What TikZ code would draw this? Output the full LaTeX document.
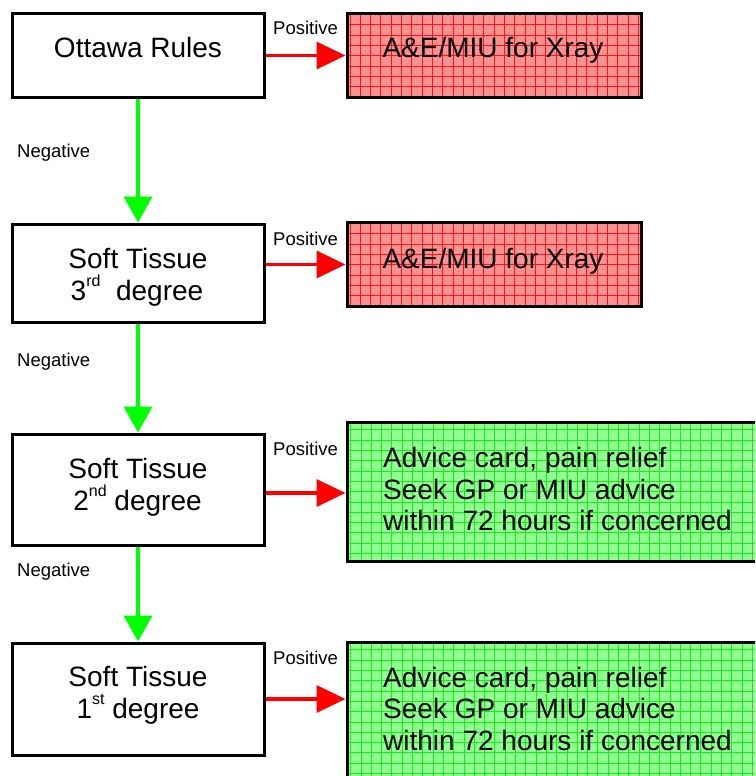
\documentclass[tikz,border=0pt]{standalone}
\usepackage{fontspec}
\setmainfont{Liberation Sans}
\usetikzlibrary{arrows.meta}
\definecolor{fillred}{RGB}{250,145,145}
\definecolor{gridred}{RGB}{255,20,20}
\definecolor{fillgreen}{RGB}{145,255,145}
\definecolor{gridgreen}{RGB}{20,240,20}
\definecolor{arrgreen}{RGB}{0,255,0}
\definecolor{arrred}{RGB}{255,0,0}
\newcommand{\sups}[1]{\raisebox{14pt}{\fontsize{16}{16}\selectfont #1}}
\begin{document}
\begin{tikzpicture}[x=1pt,y=-1pt,
  box/.style={draw=black,line width=3pt,minimum width=252pt,inner sep=0pt,fill=white},
  redbox/.style={draw=black,line width=3pt,minimum width=294pt,minimum height=84pt,inner sep=0pt,fill=fillred,
    path picture={\draw[gridred,line width=0.5pt] ([shift={(-20pt,-20pt)}]path picture bounding box.south west) grid[step=10.3pt] ([shift={(20pt,20pt)}]path picture bounding box.north east);}},
  greenbox/.style={draw=black,line width=3pt,minimum width=419pt,minimum height=139pt,inner sep=0pt,fill=fillgreen,
    path picture={\draw[gridgreen,line width=0.5pt] ([shift={(-20pt,-20pt)}]path picture bounding box.south west) grid[step=10.3pt] ([shift={(20pt,20pt)}]path picture bounding box.north east);}},
  bigtext/.style={font=\fontsize{28}{32}\selectfont,inner sep=0pt},
  smalltext/.style={font=\fontsize{18.5}{22}\selectfont,inner sep=0pt,anchor=base west},
  negarrow/.style={draw=arrgreen,fill=arrgreen,line width=4pt,-{Triangle[length=26pt,width=28pt]}},
  posarrow/.style={draw=arrred,fill=arrred,line width=3.5pt,-{Triangle[length=29pt,width=27pt]}}
]
\useasboundingbox (0,0) rectangle (755,776);
\clip (0,0) rectangle (755,776);

% left boxes
\node[box,minimum height=84pt] (b1) at (138,55.5) {};
\node[box,minimum height=98pt] (b2) at (138,273) {};
\node[box,minimum height=111pt] (b3) at (138,489.5) {};
\node[box,minimum height=112pt] (b4) at (138,699) {};

% right boxes
\node[redbox] (r1) at (494,55.5) {};
\node[redbox] (r2) at (494,264.5) {};
\node[greenbox] (g3) at (556.5,491.5) {};
\node[greenbox] (g4) at (556.5,711.5) {};

% texts in left boxes
\node[bigtext,anchor=base] (t1) at (138,58) {Ottawa Rules};
\node[bigtext,anchor=base] (t2a) at (138,268) {Soft Tissue};
\node[bigtext,anchor=base] (t2b) at (137,300) {3\sups{rd}~~degree};
\node[bigtext,anchor=base] (t3a) at (138,478) {Soft Tissue};
\node[bigtext,anchor=base] (t3b) at (137.5,510) {2\sups{nd} degree};
\node[bigtext,anchor=base] (t4a) at (138,686) {Soft Tissue};
\node[bigtext,anchor=base] (t4b) at (138,718) {1\sups{st} degree};

% texts in right boxes
\node[bigtext,anchor=base] (tr1) at (493,58) {A\&E/MIU for Xray};
\node[bigtext,anchor=base] (tr2) at (493,268) {A\&E/MIU for Xray};
\node[bigtext,anchor=base west] (tg3a) at (383,467) {Advice card, pain relief};
\node[bigtext,anchor=base west] (tg3b) at (383,499) {Seek GP or MIU advice};
\node[bigtext,anchor=base west] (tg3c) at (383,530) {within 72 hours if concerned};
\node[bigtext,anchor=base west] (tg4a) at (383,687) {Advice card, pain relief};
\node[bigtext,anchor=base west] (tg4b) at (383,718) {Seek GP or MIU advice};
\node[bigtext,anchor=base west] (tg4c) at (383,750) {within 72 hours if concerned};

% labels
\node[smalltext] (p1) at (273,35) {Positive};
\node[smalltext] (p2) at (273,245) {Positive};
\node[smalltext] (p3) at (273,455) {Positive};
\node[smalltext] (p4) at (273,664) {Positive};
\node[smalltext] (n1) at (17,157) {Negative};
\node[smalltext] (n2) at (17,366) {Negative};
\node[smalltext] (n3) at (17,576) {Negative};

% connectors
\coordinate (c3) at ([yshift=-3.5pt]b3.east);
\draw[negarrow] (b1.south) -- (b2.north);
\draw[negarrow] (b2.south) -- (b3.north);
\draw[negarrow] (b3.south) -- (b4.north);
\draw[posarrow] (b1.east) -- (r1.west);
\draw[posarrow] (b2.east |- r2.west) -- (r2.west);
\draw[posarrow] (c3) -- (g3.west |- c3);
\draw[posarrow] (b4.east) -- (g4.west |- b4.east);
\end{tikzpicture}
\end{document}
